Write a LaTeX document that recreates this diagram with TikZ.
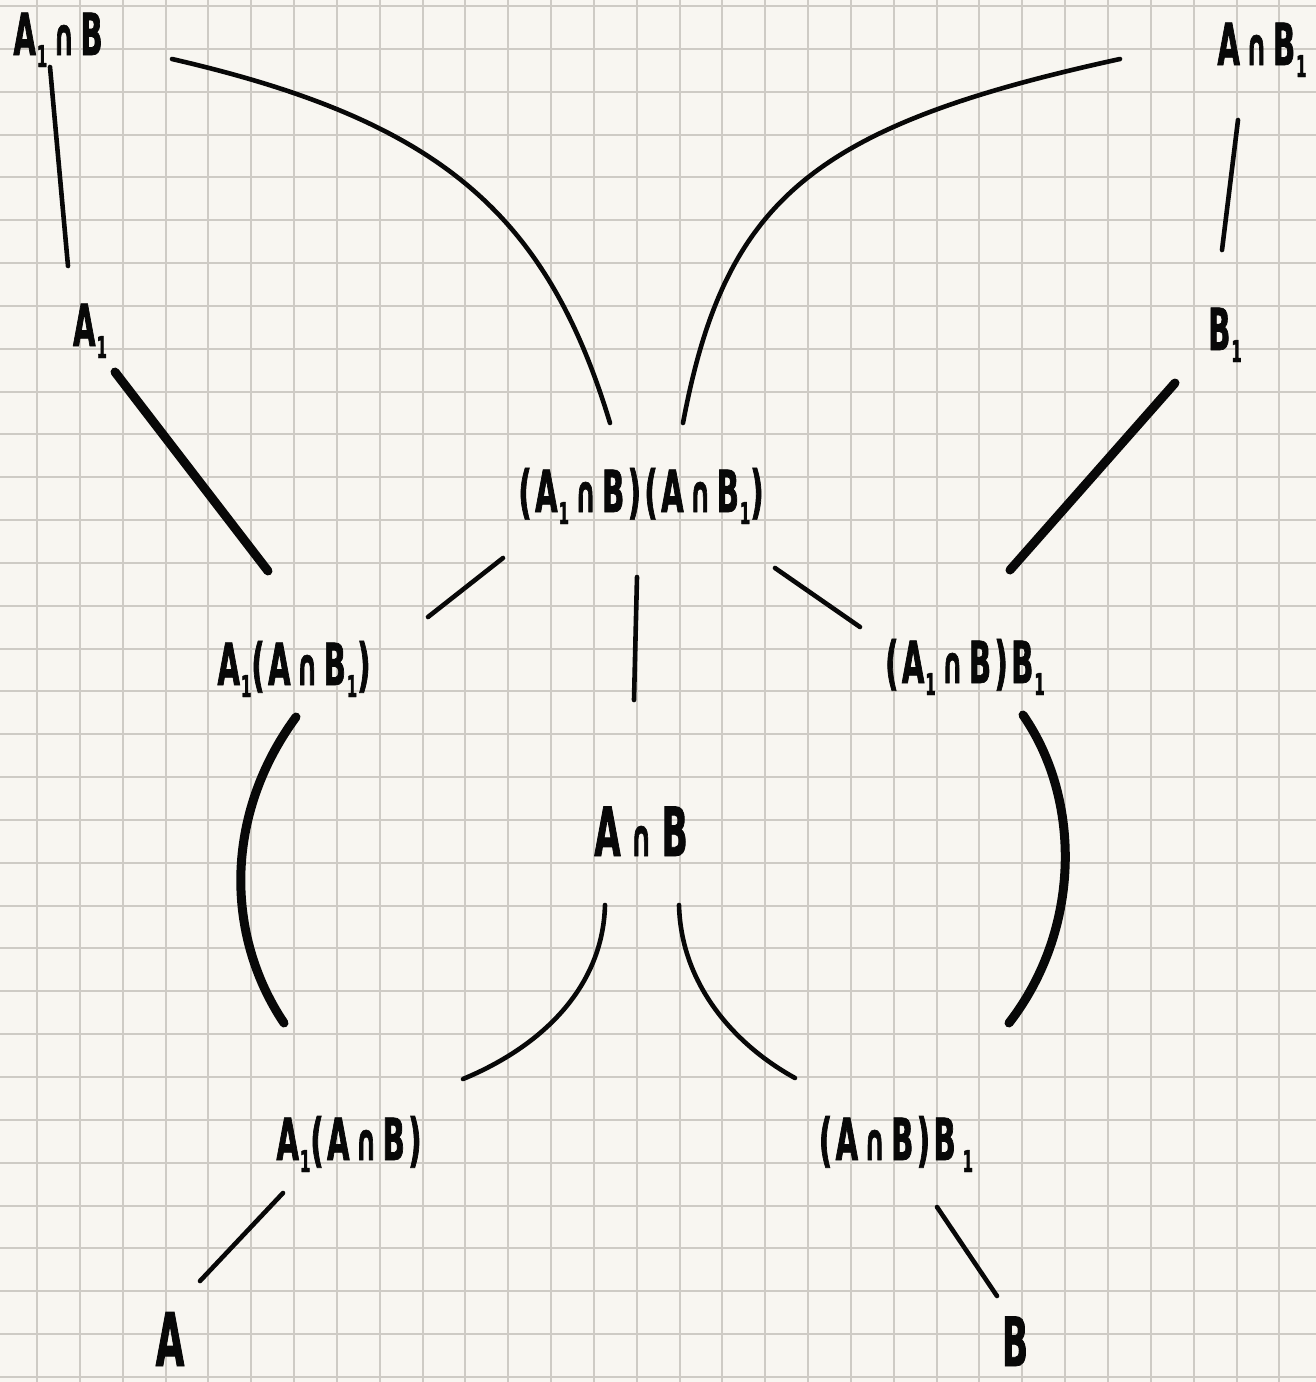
\documentclass[tikz,border=0pt]{standalone}
\usepackage{fontspec}
\usetikzlibrary{calc}
\newfontfamily\hand[FakeStretch=0.5,FakeBold=1.2,LetterSpace=6]{DejaVu Sans Bold}
\definecolor{paper}{RGB}{248,246,241}
\definecolor{gridc}{RGB}{206,203,197}
\definecolor{ink}{RGB}{8,8,8}
\newcommand\cp{\kern3pt{\fontsize{26}{26}\selectfont ∩}\kern3pt}
\newcommand\one{\kern0.5pt\raisebox{-6pt}{\fontsize{15}{15}\selectfont 1}}
\tikzset{
  lbl/.style={inner sep=0pt, anchor=base, text=ink, font=\hand\fontsize{29}{30}\selectfont},
  biglbl/.style={lbl, font=\hand\fontsize{34}{36}\selectfont},
  hugelbl/.style={lbl, font=\hand\fontsize{37}{40}\selectfont},
  thinline/.style={draw=ink, line width=2.3pt, line cap=round},
  thickline/.style={draw=ink, line width=4.5pt, line cap=round},
  gridline/.style={draw=gridc, line width=1pt}
}
\begin{document}
\begin{tikzpicture}[x=0.5pt,y=-0.5pt]
\useasboundingbox (0,0) rectangle (1316,1382);
\fill[paper] (0,0) rectangle (1316,1382);
\foreach \k in {0,...,29} \draw[gridline] ({37+42.84*\k},0) -- ({37+42.84*\k},1382);
\foreach \k in {0,...,32} \draw[gridline] (0,{6+42.84*\k}) -- (1316,{6+42.84*\k});

% labels
\node[lbl] (t1) at (58,55) {A\one\cp B};
\node[lbl] (t2) at (1262,65) {A\cp B\one};
\node[lbl] (a1) at (90,346) {A\one};
\node[lbl] (b1) at (1225,350) {B\one};
\node[lbl] (m) at (641,512) {(A\one\cp B)(A\cp B\one)};
\node[lbl] (l) at (294,685) {A\one(A\cp B\one)};
\node[lbl] (r) at (965,683) {(A\one\cp B)B\one};
\node[biglbl] (c) at (641,856) {A\kern2pt\cp\kern2pt B};
\node[lbl] (ll) at (349,1160) {A\one(A\cp B)};
\node[lbl] (rr) at (896,1160) {(A\cp B)B\kern3pt\one};
\node[hugelbl] (na) at (170,1366) {A};
\node[biglbl] (nb) at (1015,1366) {B};

% connectors
\draw[thinline] ($(t1.base)+(-8,12)$) -- ($(a1.base)+(-22,-80)$);
\draw[thinline] ($(t2.base)+(-24,55)$) -- ($(b1.base)+(-3,-100)$);
\draw[thickline] ($(a1.base)+(25,26)$) -- ($(l.base)+(-26,-114)$);
\draw[thickline] ($(b1.base)+(-50,33)$) -- ($(r.base)+(45,-113)$);
\draw[thinline] ($(t1.base)+(114,4)$) .. controls +(265,61) and +(-64,-212) .. ($(m.base)+(-31,-89)$);
\draw[thinline] ($(t2.base)+(-142,-6)$) .. controls +(-307,67) and +(42,-224) .. ($(m.base)+(42,-89)$);
\draw[thinline] ($(m.base)+(-138,46)$) -- ($(l.base)+(134,-68)$);
\draw[thinline] ($(m.base)+(-4,65)$) -- ($(c.base)+(-7,-156)$);
\draw[thinline] ($(m.base)+(134,56)$) -- ($(r.base)+(-105,-56)$);
\draw[thickline] ($(l.base)+(2,32)$) .. controls +(-72,98) and +(-59,-88) .. ($(ll.base)+(-65,-137)$);
\draw[thickline] ($(r.base)+(58,32)$) .. controls +(59,85) and +(72,-93) .. ($(rr.base)+(113,-137)$);
\draw[thinline] ($(c.base)+(-36,49)$) .. controls +(-2,80) and +(82,-34) .. ($(ll.base)+(114,-81)$);
\draw[thinline] ($(c.base)+(38,49)$) .. controls +(2,80) and +(-60,-33) .. ($(rr.base)+(-101,-82)$);
\draw[thinline] ($(ll.base)+(-66,33)$) -- ($(na.base)+(30,-85)$);
\draw[thinline] ($(rr.base)+(41,47)$) -- ($(nb.base)+(-18,-70)$);
\end{tikzpicture}
\end{document}
